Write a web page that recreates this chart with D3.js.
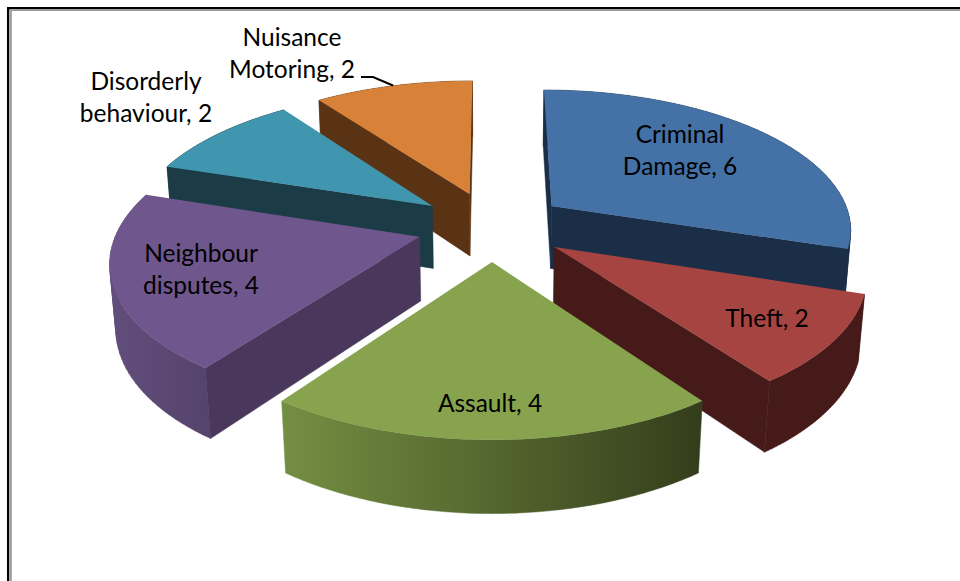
<!DOCTYPE html>
<html>
<head>
<meta charset="utf-8">
<script src="https://cdn.jsdelivr.net/npm/d3@7"></script>
<style>
    body { margin: 0; background: #fff; }
    text { font-family: Lato, "Open Sans", sans-serif; font-size: 24.5px; fill: #000; text-anchor: middle; }
</style>
</head>
<body>
<svg id="chart" width="960" height="581"></svg>
<script>
const categories = ["Criminal Damage", "Theft", "Assault", "Neighbour disputes", "Disorderly behaviour", "Nuisance Motoring"];
const values = [6, 2, 4, 4, 2, 2];
const labelLines = [["Criminal", "Damage, 6"], ["Theft, 2"], ["Assault, 4"], ["Neighbour", "disputes, 4"], ["Disorderly", "behaviour, 2"], ["Nuisance", "Motoring, 2"]];

// colours: top face, cut face, wall gradient stops
const topColors = ["#4471a6", "#a64442", "#87a34d", "#6f568c", "#3f96ae", "#d88138"];
const cutColors = ["#1b2e47", "#451a18", "#37401c", "#4a385c", "#1b3b46", "#5a3315"];
const wallStops = [
    ["#1b2e47", "#1b2e47"],
    ["#451a18", "#451a18"],
    ["#748f42", "#343d1b"],
    ["#624e7c", "#54436c"],
    ["#1b3b46", "#1b3b46"],
    ["#5a3315", "#5a3315"]
];
// label centres in px, one per category
const labelPos = [[680, 134], [767, 318], [490, 403], [201, 253], [146, 81], [292, 37]];
const labelLeading = 32;

// far slices are painted first
const paintOrder = [5, 0, 4, 3, 1, 2];

// camera fitted to the picture
const centerX = 492, centerY = 226;
const scaleX = 301, scaleY = 139, sideDepth = 64.5;
const nearGrow = 0.15, bottomShrink = 0.016;
const explode = 0.25;

const svg = d3.select("#chart");
const defs = svg.append("defs");

// project a point on the unit pie; z is 0 on the top face, 1 on the bottom
function project(x, y, z) {
    const w = 1 - nearGrow * y + bottomShrink * z;
    return [centerX + scaleX * x / w, centerY + (scaleY * y + sideDepth * z) / w];
}

const slices = d3.pie().sort(null).value(d => d).startAngle(0).endAngle(2 * Math.PI)(values);

const line = d3.line();

function rimPoints(slice, z) {
    const mid = (slice.startAngle + slice.endAngle) / 2;
    const ox = explode * Math.sin(mid), oy = -explode * Math.cos(mid);
    return d3.range(0, 41).map(i => {
        const a = slice.startAngle + (slice.endAngle - slice.startAngle) * i / 40;
        return project(ox + Math.sin(a), oy - Math.cos(a), z);
    });
}

function apexPoint(slice, z) {
    const mid = (slice.startAngle + slice.endAngle) / 2;
    return project(explode * Math.sin(mid), -explode * Math.cos(mid), z);
}

// the wall as one path of quads, all wound the same way so the silhouette stays filled
function wallPath(top, bottom) {
    return d3.pairs(d3.range(top.length)).map(([a, b]) => {
        const quad = [top[a], top[b], bottom[b], bottom[a]];
        if (d3.polygonArea(quad) < 0) quad.reverse();
        return line(quad) + "Z";
    }).join("");
}

// background frame
svg.append("rect").attr("x", 7).attr("y", 7).attr("width", 960).attr("height", 2.3).attr("fill", "#000");
svg.append("rect").attr("x", 7).attr("y", 7).attr("width", 2.3).attr("height", 581).attr("fill", "#000");
svg.append("rect").attr("x", 10).attr("y", 9.3).attr("width", 960).attr("height", 1.7).attr("fill", "#999");
svg.append("rect").attr("x", 10).attr("y", 9.3).attr("width", 1.8).attr("height", 581).attr("fill", "#999");

paintOrder.forEach(i => {
    const slice = slices[i];
    const g = svg.append("g").attr("class", "slice").attr("id", `slice-${i}`);
    const top = rimPoints(slice, 0), bottom = rimPoints(slice, 1);
    const apexTop = apexPoint(slice, 0), apexBottom = apexPoint(slice, 1);

    // wall, with a left to right gradient across the slice
    const xs = d3.extent(top.concat(bottom), p => p[0]);
    const grad = defs.append("linearGradient")
        .attr("id", `wall-${i}`)
        .attr("gradientUnits", "userSpaceOnUse")
        .attr("x1", xs[0]).attr("x2", xs[1]).attr("y1", 0).attr("y2", 0);
    grad.append("stop").attr("offset", 0).attr("stop-color", wallStops[i][0]);
    grad.append("stop").attr("offset", 1).attr("stop-color", wallStops[i][1]);

    g.append("path")
        .attr("d", wallPath(top, bottom))
        .attr("fill", `url(#wall-${i})`)
        .attr("stroke", `url(#wall-${i})`)
        .attr("stroke-width", 0.5);

    // cut faces, only the ones turned to the camera
    const startCut = [apexTop, top[0], bottom[0], apexBottom];
    const endCut = [apexTop, top[top.length - 1], bottom[bottom.length - 1], apexBottom];
    if (d3.polygonArea(startCut) > 0) {
        g.append("path").attr("d", line(startCut) + "Z")
            .attr("fill", cutColors[i]).attr("stroke", cutColors[i]).attr("stroke-width", 0.5);
    }
    if (d3.polygonArea(endCut) < 0) {
        g.append("path").attr("d", line(endCut) + "Z")
            .attr("fill", cutColors[i]).attr("stroke", cutColors[i]).attr("stroke-width", 0.5);
    }

    g.append("path")
        .attr("d", line([apexTop].concat(top)) + "Z")
        .attr("fill", topColors[i]);
});

// leader line of the nuisance label
svg.append("polyline")
    .attr("points", "361,77 373,77 393,85.5")
    .attr("fill", "none")
    .attr("stroke", "#000")
    .attr("stroke-width", 2);

// labels
categories.forEach((name, i) => {
    const label = svg.append("text")
        .attr("class", "label")
        .attr("transform", `translate(${labelPos[i][0]},${labelPos[i][1]})`);
    labelLines[i].forEach((t, j) => {
        label.append("tspan")
            .attr("x", 0)
            .attr("y", j * labelLeading)
            .attr("dy", "0.35em")
            .text(t);
    });
});
</script>
</body>
</html>
